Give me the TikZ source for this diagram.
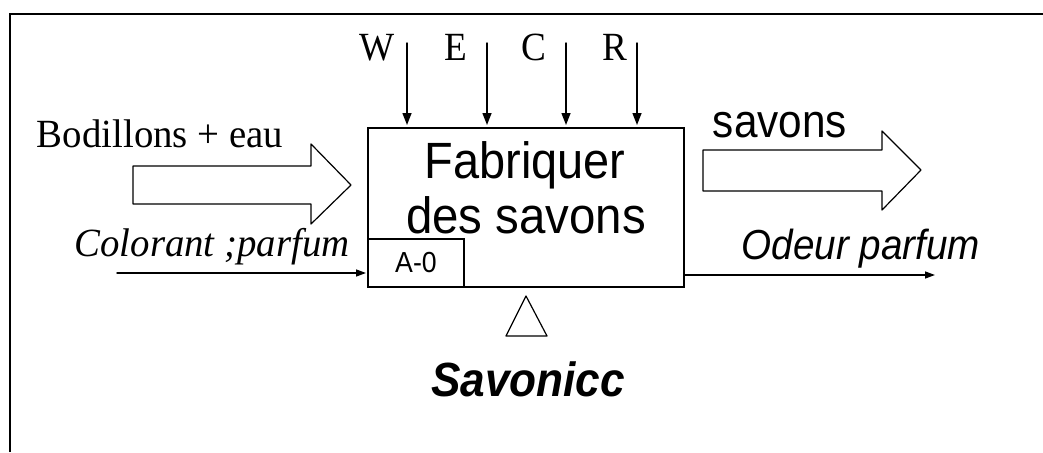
\documentclass[tikz,border=0pt]{standalone}
\usepackage{fontspec}
\setmainfont{Liberation Serif}
\setsansfont{Liberation Sans}
\usepackage{tikz}
\usetikzlibrary{calc, arrows.meta}
\usepackage{tkz-euclide}

\tikzset{
  serif label/.style={font=\fontsize{40}{44}\selectfont, inner sep=0pt, anchor=base},
  sans label/.style={font=\sffamily\fontsize{51}{56}\selectfont, inner sep=0pt, anchor=base},
  flow/.style={line width=1.4pt, -{Triangle[length=12pt,width=9pt]}},
  block/.style={line width=1.2pt}
}

\begin{document}
\begin{tikzpicture}[x=1pt, y=1pt]
            \useasboundingbox (0,0) rectangle (1043,-452);
            \draw[line width=2pt] (10,-452) -- (10,-14) -- (1043,-14);
            % activity box
            \node[draw, line width=1.4pt, minimum width=316pt, minimum height=159pt, inner sep=0pt] (box) at (526,-207.5) {};
            \node[sans label] (fab) at (525,-178) {\scalebox{0.92}[1]{Fabriquer}};
            \node[sans label] (des) at (526,-233) {\scalebox{0.93}[1]{des savons}};
            \node[draw, line width=1.4pt, anchor=south west, minimum width=96pt, minimum height=48pt, inner sep=0pt,
                  font=\sffamily\fontsize{29}{32}\selectfont] (A0) at (box.south west) {\scalebox{0.92}[1]{A-0}\hspace{6pt}};
            % controls
            \tkzDefPoints{407/-43/W_1, 487/-43/E_1, 566/-43/C_1, 637/-43/R_1}
            \tkzDefPoints{407/-125/W_2, 487/-125/E_2, 566/-125/C_2, 637/-125/R_2}
            \tkzDrawSegments[flow](W_1,W_2 E_1,E_2 C_1,C_2 R_1,R_2)
            \node[serif label] (w) at (377,-60) {\scalebox{0.93}[1]{W}};
            \node[serif label] (e) at (456,-60) {\scalebox{0.93}[1]{E}};
            \node[serif label] (c) at (534,-60) {\scalebox{0.93}[1]{C}};
            \node[serif label] (r) at (615,-60) {\scalebox{0.93}[1]{R}};
            % inputs
            \tkzDefPoints{133/-166/P_1, 311/-166/P_2, 311/-144/P_3, 351/-185/P_4, 311/-224/P_5, 311/-204/P_6, 133/-204/P_7}
            \tkzDrawPolygon[block](P_1,P_2,P_3,P_4,P_5,P_6,P_7)
            \node[serif label] (bod) at (160,-147) {\scalebox{0.97}[1]{Bodillons + eau}};
            \tkzDefPoints{117/-273/I_1, 366/-273/I_2}
            \tkzDrawSegments[line width=1.4pt, -{Triangle[length=10pt,width=7pt]}](I_1,I_2)
            \node[serif label] (col) at (212,-256) {\scalebox{0.97}[1]{\itshape Colorant ;parfum}};
            % outputs
            \tkzDefPoints{703/-150/Q_1, 882/-150/Q_2, 882/-131/Q_3, 921/-170/Q_4, 882/-210/Q_5, 882/-191/Q_6, 703/-191/Q_7}
            \tkzDrawPolygon[block](Q_1,Q_2,Q_3,Q_4,Q_5,Q_6,Q_7)
            \node[sans label, font=\sffamily\fontsize{47}{52}\selectfont] (sav) at (780,-137) {\scalebox{0.9}[1]{savons}};
            \tkzDefPoints{935/-275/O_2}
            \draw[line width=1.4pt, -{Triangle[length=10pt,width=7pt]}] (box.east |- O_2) -- (O_2);
            \node[sans label, font=\sffamily\itshape\fontsize{42}{46}\selectfont] (ode) at (861,-259) {\scalebox{0.92}[1]{Odeur parfum}};
            % mechanism
            \tkzDefPoints{526/-296/T_1, 506/-336/T_2, 547/-336/T_3}
            \tkzDrawPolygon[block](T_1,T_2,T_3)
            \node[sans label, font=\sffamily\bfseries\itshape\fontsize{48}{52}\selectfont] (mec) at (528,-396) {\scalebox{0.92}[1]{Savonicc}};
        \end{tikzpicture}
\end{document}
